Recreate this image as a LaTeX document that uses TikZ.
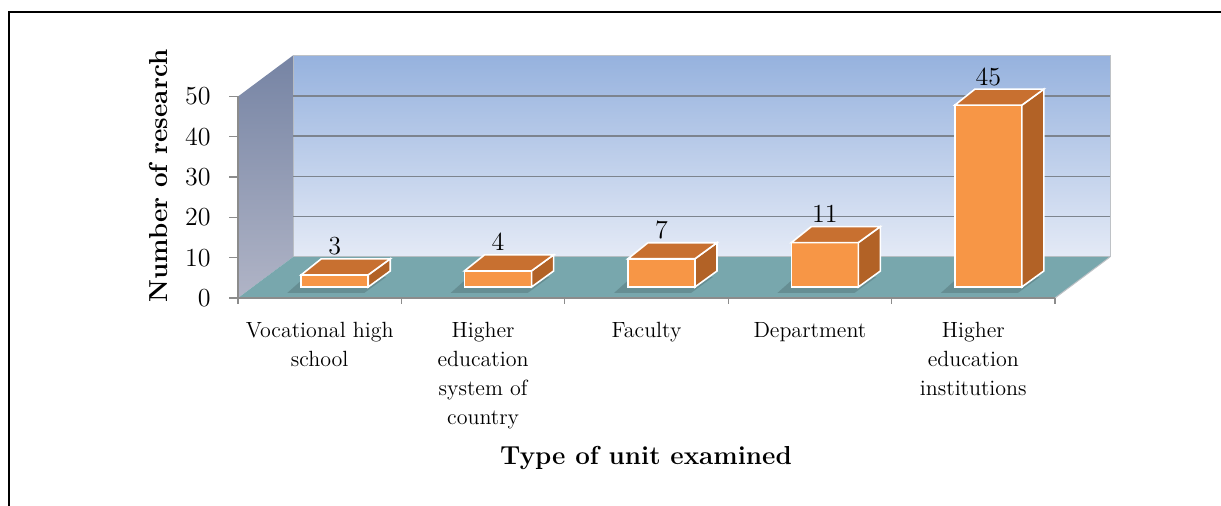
\documentclass[tikz,border=0pt]{standalone}
\usepackage[x11names]{xcolor}
\usepackage{tikz}
\definecolor{wallTop}{RGB}{150,178,222}
\definecolor{wallBot}{RGB}{228,234,246}
\definecolor{sideTop}{RGB}{118,132,164}
\definecolor{sideBot}{RGB}{176,180,198}
\definecolor{floorCol}{RGB}{120,167,173}
\definecolor{barFront}{RGB}{247,150,70}
\definecolor{barSide}{RGB}{178,98,38}
\definecolor{barTop}{RGB}{200,112,48}
\definecolor{gridCol}{RGB}{125,132,142}
\definecolor{axisCol}{RGB}{140,140,140}
\newcommand\catfont{\fontsize{11}{14.5}\selectfont}
\newcommand\numfont{\fontsize{13}{15}\selectfont}
\newcommand\titfont{\fontsize{13}{16}\selectfont\bfseries}

\begin{document}
\begin{tikzpicture}[x=0.5pt,y=-0.5pt]
\useasboundingbox (0,0) rectangle (1221,506);
\draw[line width=1pt] (9,506) -- (9,12) -- (1221,12);
% walls and floor
\shade[top color=wallTop,bottom color=wallBot] (293,55.5) rectangle (1110,257);
\draw[gridCol!50,line width=.5pt] (293,257) rectangle (1110,55.5);
\shade[top color=sideTop,bottom color=sideBot] (238,298) -- (293,257) -- (293,55.5) -- (238,96.5) -- cycle;
\fill[floorCol] (238,298) -- (1055,298) -- (1110,257) -- (293,257) -- cycle;
\draw[gridCol!50,line width=.5pt] (1055,298) -- (1110,257);
\foreach \v in {10,20,30,40}
 \draw[gridCol,line width=.8pt] (293,257-\v*4.03) -- (1110,257-\v*4.03);
% axes
\draw[axisCol,line width=.6pt] (238,96.5) -- (238,298) -- (1055,298);
\foreach \v in {0,10,...,50} {
 \draw[axisCol,line width=.6pt] (229,298-\v*4.03) -- (238,298-\v*4.03);
 \node[anchor=east,inner sep=0,font=\numfont] (t\v) at (211,298-\v*4.03) {\v};
}
\foreach \i in {0,...,5}
 \draw[axisCol,line width=.6pt] (238+\i*163.4,298) -- (238+\i*163.4,304);
% bars
\foreach \i/\v in {1/3,2/4,3/7,4/11,5/45} {
 \pgfmathsetmacro\xl{238+(\i-0.5)*163.4+15-33.5}
 \pgfmathsetmacro\xr{\xl+67}
 \pgfmathsetmacro\yt{287-\v*4.04}
 \fill[black,opacity=.15] (\xl-14,293) -- (\xr-4,293) -- (\xr+18,277) -- (\xl+4,277) -- cycle;
 \filldraw[fill=barFront,draw=white,line width=.8pt] (\xl,287) rectangle (\xr,\yt);
 \filldraw[fill=barSide,draw=white,line width=.8pt] (\xr,287) -- (\xr+22,271) -- (\xr+22,\yt-16) -- (\xr,\yt) -- cycle;
 \filldraw[fill=barTop,draw=white,line width=.8pt] (\xl,\yt) -- (\xl+20,\yt-16) -- (\xr+22,\yt-16) -- (\xr,\yt) -- cycle;
 \node[anchor=base,inner sep=0,font=\numfont] (v\i) at (\xl+33.5,\yt-20) {\v};
}
% category labels
\foreach \i/\t in {1/{Vocational high\\school},2/{Higher\\education\\system of\\country},3/Faculty,4/Department,5/{Higher\\education\\institutions}}
 \node[anchor=north,align=center,inner sep=0,font=\catfont] (c\i) at (238+\i*163.4-81.7,322) {\t};
\node[font=\titfont] (xlab) at (646,458) {Type of unit examined};
\node[font=\titfont,rotate=90] (ylab) at (158,176) {Number of research};
\end{tikzpicture}
\end{document}
